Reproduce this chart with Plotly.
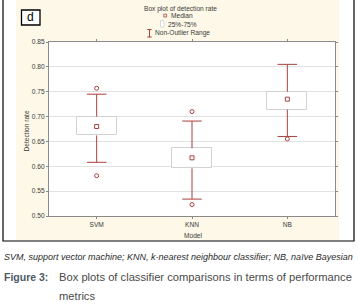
import plotly.graph_objects as go

# ---------------- data ----------------
models = ["SVM", "KNN", "NB"]
q1 = [0.662, 0.596, 0.714]
q3 = [0.700, 0.636, 0.750]
median = [0.680, 0.617, 0.735]
lower_whisker = [0.608, 0.534, 0.660]
upper_whisker = [0.745, 0.691, 0.805]
outlier_models = ["SVM", "SVM", "KNN", "KNN", "NB"]
outlier_values = [0.757, 0.581, 0.710, 0.523, 0.655]
y_ticks = [0.50, 0.55, 0.60, 0.65, 0.70, 0.75, 0.80, 0.85]

# ---------------- style ----------------
RED = "#a8413f"
BOXLINE = "#d2d2d2"
CREAM = "#fdf8e8"
FONT = "Liberation Sans, Arial, sans-serif"
CAP = "Liberation Sans, Arial, sans-serif"
W, H = 358, 304
L, R, T, B = 49, 335, 42, 216


def px(x):
    return (x - L) / (R - L)


def py(y):
    return (B - y) / (B - T)


fig = go.Figure()

# boxes (25%-75%)
fig.add_trace(go.Bar(
    x=models, base=q1, y=[b - a for a, b in zip(q1, q3)],
    width=0.42, marker=dict(color="white", line=dict(color=BOXLINE, width=1)),
    hoverinfo="skip", showlegend=False,
))

# whiskers
wx, wy = [], []
for m, a, b, lo, hi in zip(models, q1, q3, lower_whisker, upper_whisker):
    wx += [m, m, None, m, m, None]
    wy += [b, hi, None, lo, a, None]
fig.add_trace(go.Scatter(x=wx, y=wy, mode="lines", line=dict(color=RED, width=1),
                         hoverinfo="skip", showlegend=False))

# caps
fig.add_trace(go.Scatter(
    x=models + models, y=lower_whisker + upper_whisker, mode="markers",
    marker=dict(symbol="line-ew", size=14, line=dict(color=RED, width=1)),
    hoverinfo="skip", showlegend=False))

# medians
fig.add_trace(go.Scatter(
    x=models, y=median, mode="markers",
    marker=dict(symbol="square-open", size=4, color=RED, line=dict(width=1)),
    hoverinfo="skip", showlegend=False))

# outliers
fig.add_trace(go.Scatter(
    x=outlier_models, y=outlier_values, mode="markers",
    marker=dict(symbol="circle-open", size=4, color=RED, line=dict(width=1)),
    hoverinfo="skip", showlegend=False))

shapes = [
    # cream panel
    dict(type="rect", xref="paper", yref="paper", x0=px(16), x1=px(339), y0=py(240), y1=py(-5),
         fillcolor=CREAM, line=dict(width=0), layer="below"),
    # plot area white
    dict(type="rect", xref="paper", yref="paper", x0=0, x1=1, y0=0, y1=1,
         fillcolor="white", line=dict(width=0), layer="below"),
    # outer frame
    dict(type="rect", xref="paper", yref="paper", x0=px(3), x1=px(354), y0=py(241), y1=py(-5),
         line=dict(color="black", width=1.2)),
    # "d" box
    dict(type="rect", xref="paper", yref="paper", x0=px(21.5), x1=px(40), y0=py(25), y1=py(10),
         line=dict(color="black", width=1.3), fillcolor="white"),
    # legend: median marker
    dict(type="rect", xref="paper", yref="paper", x0=px(163.8), x1=px(166.6), y0=py(17), y1=py(14.2),
         line=dict(color=RED, width=0.8)),
    # legend: 25-75 box
    dict(type="rect", xref="paper", yref="paper", x0=px(160.5), x1=px(164), y0=py(27), y1=py(20.5),
         line=dict(color=BOXLINE, width=0.8), fillcolor="white"),
    # legend: non-outlier range
    dict(type="line", xref="paper", yref="paper", x0=px(149.5), x1=px(149.5), y0=py(37), y1=py(29.5),
         line=dict(color=RED, width=1)),
    dict(type="line", xref="paper", yref="paper", x0=px(147.3), x1=px(151.7), y0=py(29.5), y1=py(29.5),
         line=dict(color=RED, width=1)),
    dict(type="line", xref="paper", yref="paper", x0=px(147.3), x1=px(151.7), y0=py(37), y1=py(37),
         line=dict(color=RED, width=1)),
]

TXT = "#3a3a3a"
annotations = [
    dict(text="d", x=px(30.8), y=py(17.3), font=dict(size=12, color="black", family=FONT)),
    dict(text="Box plot of detection rate", x=px(180), y=py(9), font=dict(size=6.6, color=TXT, family=FONT)),
    dict(text="Median", x=px(168.5), y=py(15.5), xanchor="left", font=dict(size=6.6, color=TXT, family=FONT)),
    dict(text="25%-75%", x=px(165.5), y=py(24), xanchor="left", font=dict(size=6.6, color=TXT, family=FONT)),
    dict(text="Non-Outlier Range", x=px(152.5), y=py(33.3), xanchor="left", font=dict(size=6.6, color=TXT, family=FONT)),
    dict(text="Detection rate", x=px(25.5), y=py(131), textangle=-90, font=dict(size=6.6, color=TXT, family=FONT)),
    dict(text="Model", x=px(192.5), y=py(235.7), font=dict(size=6.6, color=TXT, family=FONT)),
    dict(text="<i>SVM, support vector machine; KNN, k-nearest neighbour classifier; NB, naïve Bayesian</i>",
         x=px(1.5), y=py(256.5), xanchor="left", font=dict(size=9, color="#2a2a2a", family=CAP)),
    dict(text="<b>Figure 3:</b>", x=px(1.5), y=py(276.5), xanchor="left",
         font=dict(size=10.5, color="#505a66", family=CAP)),
    dict(text="Box plots of classifier comparisons in terms of performance", x=px(57), y=py(276.5),
         xanchor="left", font=dict(size=11.2, color="#4a4a4a", family=CAP)),
    dict(text="metrics", x=px(57), y=py(296), xanchor="left",
         font=dict(size=11.2, color="#4a4a4a", family=CAP)),
]
for a in annotations:
    a.update(xref="paper", yref="paper", showarrow=False)
    a.setdefault("xanchor", "center")
    a.setdefault("yanchor", "middle")

fig.update_layout(
    width=W, height=H,
    margin=dict(l=L, r=W - R, t=T, b=H - B, pad=0),
    paper_bgcolor="white", plot_bgcolor="white",
    shapes=shapes, annotations=annotations,
    showlegend=False, bargap=0,
    font=dict(family=FONT, size=6.6, color=TXT),
)
fig.update_xaxes(
    type="category", categoryorder="array", categoryarray=models, range=[-0.5, 2.5],
    showline=True, linecolor="#8a8a8a", linewidth=1, mirror="ticks",
    ticks="outside", ticklen=2, tickcolor="#8a8a8a", showgrid=False, zeroline=False,
    tickfont=dict(size=6.6, color=TXT, family=FONT), fixedrange=True,
)
fig.update_yaxes(
    range=[0.50, 0.85], tickvals=y_ticks, ticktext=[f"{v:.2f}" for v in y_ticks],
    showline=True, linecolor="#8a8a8a", linewidth=1, mirror="ticks",
    ticks="outside", ticklen=2, tickcolor="#8a8a8a",
    showgrid=True, gridcolor="#e2e2e2", gridwidth=1, zeroline=False,
    tickfont=dict(size=6.6, color=TXT, family=FONT), fixedrange=True,
)

fig.write_html("out.html", config={"displayModeBar": False},
               post_script="document.body.style.margin='0';document.body.style.padding='0';")
